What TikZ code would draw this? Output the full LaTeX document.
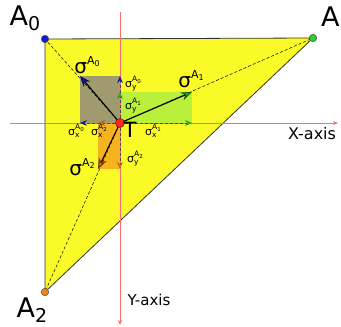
\documentclass[tikz,border=0pt]{standalone}
\usepackage{fontspec}
\setmainfont{DejaVu Sans}
\usetikzlibrary{arrows.meta}
\definecolor{tri}{RGB}{250,250,40}
\definecolor{graybox}{RGB}{160,155,110}
\definecolor{greenbox}{RGB}{185,240,60}
\definecolor{orangebox}{RGB}{245,180,30}
\definecolor{cA0}{RGB}{20,30,200}
\definecolor{cA1}{RGB}{40,210,40}
\definecolor{cA2}{RGB}{250,130,10}
\definecolor{axisred}{RGB}{255,110,110}
\newcommand{\VLab}[1]{{\fontsize{27}{27}\selectfont A\raisebox{-5pt}{\fontsize{19}{19}\selectfont #1}}}
\newcommand{\SigBig}[1]{{\fontsize{20}{20}\selectfont σ}\raisebox{9pt}{\fontsize{11}{11}\selectfont A\raisebox{-2.5pt}{\fontsize{8}{8}\selectfont #1}}}
\newcommand{\SigC}[2]{{\fontsize{11}{11}\selectfont σ}\rlap{\raisebox{-2.5pt}{\fontsize{7.5}{7.5}\selectfont #1}}\raisebox{5.5pt}{\fontsize{7.5}{7.5}\selectfont A\raisebox{-1.8pt}{\fontsize{5.5}{5.5}\selectfont #2}}}
\begin{document}
\begin{tikzpicture}[x=1pt,y=-1pt,
  dotst/.style={circle,inner sep=0pt,minimum size=7.5pt,draw=black!70,line width=0.5pt},
  tline/.style={densely dashed,line width=0.5pt},
  vec/.style={line width=1.1pt,-{Stealth[length=11pt,width=8.5pt,inset=3.5pt,fill=#1,color=black!55!#1]}},
  comp/.style={densely dashed,line width=0.5pt,draw=black!70,-{Stealth[length=7pt,width=5.5pt,inset=2.5pt,fill=#1,color=black!30!#1]}},
  axis/.style={axisred,line width=0.6pt,-{Stealth[length=5pt,width=4pt]}},
  lab/.style={inner sep=0pt}]
\useasboundingbox (0,0) rectangle (341,327);
\coordinate (A0) at (45,39);
\coordinate (A1) at (313,38);
\coordinate (A2) at (45,292);
\coordinate (T) at (120,123);
% triangle
\fill[tri] (A0) -- (A1) -- (A2) -- cycle;
% rectangles
\fill[graybox] (80,76) rectangle (T);
\fill[greenbox] (T) rectangle (192,92);
\fill[orangebox] (98,123) rectangle (120,169);
\draw[line width=0.8pt,black!80] (A0) -- (A1) -- (A2) -- cycle;
% dashed lines to vertices
\draw[tline] (T) -- (A0);
\draw[tline] (T) -- (A1);
\draw[tline] (T) -- (A2);
% axes
\coordinate (xs) at (10,123);
\coordinate (xe) at (338,123);
\coordinate (ys) at (120,12);
\coordinate (ye) at (120,325);
\draw[axis] (xs) -- (xe);
\draw[axis] (ys) -- (ye);
% component arrows
\coordinate (X0) at (80,123); \coordinate (Y0) at (120,76);
\coordinate (X1) at (192,123); \coordinate (Y1) at (120,92);
\coordinate (X2) at (98,123); \coordinate (Y2) at (120,169);
\coordinate (S0) at (80,76); \coordinate (S1) at (192,92); \coordinate (S2) at (98,169);
\draw[comp=cA0] (T) -- (X0);
\draw[comp=cA0] (T) -- (Y0);
\draw[comp=cA1] (T) -- (X1);
\draw[comp=cA1] (T) -- (Y1);
\draw[comp=cA2] (T) -- (X2);
\draw[comp=cA2] (T) -- (Y2);
% vectors
\draw[vec=cA0] (T) -- (S0);
\draw[vec=cA1] (T) -- (S1);
\draw[vec=cA2] (T) -- (S2);
% dots
\node[dotst,fill=cA0] (dA0) at (A0) {};
\node[dotst,fill=cA1] (dA1) at (A1) {};
\node[dotst,fill=cA2] (dA2) at (A2) {};
\node[dotst,fill=red!85!white,draw=red!50!black,minimum size=9pt] (dT) at (T) {};
% labels
\node[lab] (lA0) at (25,18) {\VLab{0}};
\node[lab,anchor=west] (lA1) at (321,19) {\VLab{1}};
\node[lab] (lA2) at (32,310) {\VLab{2}};
\node[lab] (lT) at (130,130) {\fontsize{21}{21}\selectfont T};
\node[lab] (lX) at (312,134) {\fontsize{16}{16}\selectfont X-axis};
\node[lab] (lY) at (149,300) {\fontsize{15}{15}\selectfont Y-axis};
\node[lab] (s0) at (87,65) {\SigBig{0}};
\node[lab] (s1) at (191,79) {\SigBig{1}};
\node[lab] (s2) at (82,167) {\SigBig{2}};
\node[lab] (sy0) at (133,84) {\SigC{y}{0}};
\node[lab] (sy1) at (133,106) {\SigC{y}{1}};
\node[lab] (sy2) at (135,159) {\SigC{y}{2}};
\node[lab] (sx0) at (76,131) {\SigC{x}{0}};
\node[lab] (sx2) at (99,131) {\SigC{x}{2}};
\node[lab] (sx1) at (153,131) {\SigC{x}{1}};
\end{tikzpicture}
\end{document}
